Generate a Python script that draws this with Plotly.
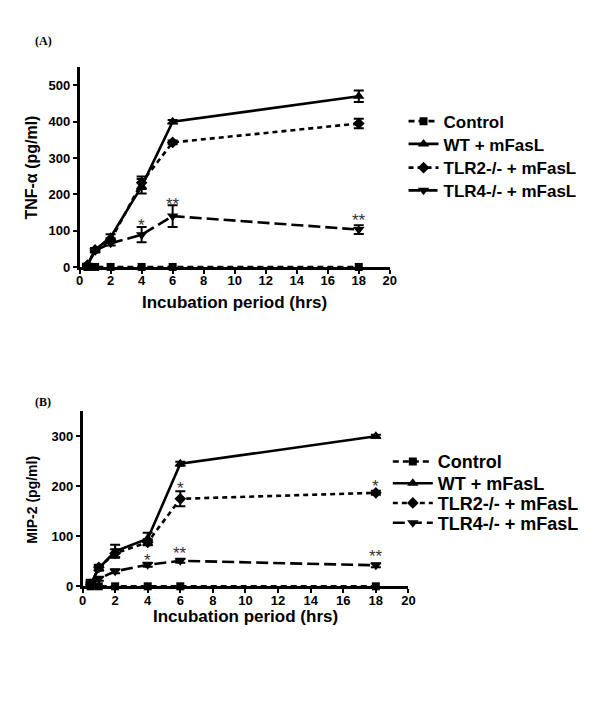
import plotly.graph_objects as go

W, H = 600, 709

times = [0.5, 1, 2, 4, 6, 18]
series_names = ["Control", "WT + mFasL", "TLR2-/- + mFasL", "TLR4-/- + mFasL"]

# Panel A: TNF-alpha (pg/ml)
control_a = [0, 0, 0, 0, 0, 0]
wt_a = [5, 47, 82, 222, 400, 470]
wt_a_err = [3, 5, 8, 20, 5, 16]
tlr2_a = [5, 47, 73, 232, 343, 395]
tlr2_a_err = [3, 5, 6, 17, 5, 13]
tlr4_a = [5, 45, 65, 89, 140, 103]
tlr4_a_err = [3, 5, 6, 21, 30, 12]

# Panel B: MIP-2 (pg/ml)
control_b = [0, 0, 0, 0, 0, 0]
wt_b = [5, 36, 70, 95, 245, 300]
wt_b_err = [8, 5, 13, 12, 4, 3]
tlr2_b = [4, 38, 66, 88, 175, 187]
tlr2_b_err = [6, 5, 8, 6, 15, 4]
tlr4_b = [3, 15, 30, 43, 51, 42]
tlr4_b_err = [5, 4, 4, 4, 4, 4]

# significance marks: (x, y, text)
stars_a = [(4, 114, "*"), (6, 172, "**"), (18, 128, "**")]
stars_b = [(6, 195, "*"), (18, 199, "*"), (4, 52, "*"), (6, 66, "**"), (18, 60, "**")]

x_ticks = list(range(0, 21, 2))

styles = [
    dict(symbol="square", dash="6px,4px", size=8),
    dict(symbol="triangle-up", dash="solid", size=10),
    dict(symbol="diamond", dash="5px,4px", size=9),
    dict(symbol="triangle-down", dash="12px,5px", size=10),
]

fig = go.Figure()

def add_panel(vals, errs, xa, ya, legends):
    for name, v, e, st, lg in zip(series_names, vals, errs, styles, legends):
        err = dict(type="data", array=e, visible=True, color="black",
                   thickness=2, width=5) if e is not None else dict(visible=False)
        fig.add_trace(go.Scatter(
            x=times, y=v, name=name, mode="lines+markers",
            xaxis=xa, yaxis=ya, legend=lg, cliponaxis=False, showlegend=True,
            line=dict(color="black", width=2.6, dash=st["dash"]),
            marker=dict(symbol=st["symbol"], size=st["size"], color="black"),
            error_y=err,
        ))

legends_a = ["legend", "legend2", "legend3", "legend4"]
legends_b = ["legend5", "legend6", "legend7", "legend8"]

add_panel([control_a, wt_a, tlr2_a, tlr4_a],
          [None, wt_a_err, tlr2_a_err, tlr4_a_err], "x", "y", legends_a)
add_panel([control_b, wt_b, tlr2_b, tlr4_b],
          [None, wt_b_err, tlr2_b_err, tlr4_b_err], "x2", "y2", legends_b)

def px_x(p):
    return p / W

def px_y(p):
    return (H - p) / H

tickfont = dict(family="Liberation Sans, Arial", size=13, color="black", weight="bold")
axis_common = dict(showline=True, linecolor="black", linewidth=2.6, ticks="outside",
                   ticklen=4, tickwidth=2.2, tickcolor="black", showgrid=False,
                   zeroline=False, tickfont=tickfont)

fig.update_layout(
    width=W, height=H, margin=dict(l=0, r=0, t=0, b=0),
    paper_bgcolor="white", plot_bgcolor="white", showlegend=True,
    xaxis=dict(domain=[px_x(77), px_x(393)], range=[0, 20], tickvals=x_ticks,
               anchor="y", ticklabelstandoff=-4, **axis_common),
    yaxis=dict(domain=[px_y(270), px_y(68)], range=[0, 550], dtick=100,
               anchor="x", **axis_common),
    xaxis2=dict(domain=[px_x(80), px_x(412)], range=[0, 20], tickvals=x_ticks,
                anchor="y2", ticklabelstandoff=-4, **axis_common),
    yaxis2=dict(domain=[px_y(593), px_y(416)], range=[0, 350], dtick=100,
                anchor="x2", **axis_common),
)

# one legend box per entry so rows sit where the reference has them
rows_a = [123, 146, 170, 193]
rows_b = [467, 489, 509, 529]
leg_layout = {}
for lg, ry in zip(legends_a, rows_a):
    leg_layout[lg] = dict(x=px_x(407), y=px_y(ry), xanchor="left", yanchor="middle",
                          font=dict(family="Liberation Sans, Arial", size=17,
                                    color="black", weight="bold"),
                          bgcolor="rgba(0,0,0,0)", itemwidth=30, visible=True)
for lg, ry in zip(legends_b, rows_b):
    leg_layout[lg] = dict(x=px_x(391), y=px_y(ry), xanchor="left", yanchor="middle",
                          font=dict(family="Liberation Sans, Arial", size=18,
                                    color="black", weight="bold"),
                          bgcolor="rgba(0,0,0,0)", itemwidth=40, visible=True)
fig.update_layout(**leg_layout)

ann = []

def paper_text(text, x, y, size, angle=0, family=None, weight="bold"):
    f = dict(size=size, color="black", weight=weight,
             family=family or "Liberation Sans, Arial")
    ann.append(dict(text=text, x=px_x(x), y=px_y(y), xref="paper", yref="paper",
                    xanchor="center", yanchor="middle", showarrow=False,
                    textangle=angle, font=f))

paper_text("Incubation period (hrs)", 235, 306, 17)
paper_text("Incubation period (hrs)", 246, 624, 17)
paper_text("TNF-α (pg/ml)", 28, 169, 16, angle=-90)
paper_text("MIP-2 (pg/ml)", 29, 505, 14, angle=-90)
paper_text("(A)", 40, 41, 12, family="Liberation Serif, Times New Roman")
paper_text("(B)", 40, 407, 12, family="Liberation Serif, Times New Roman")

star_font = dict(family="Liberation Sans, Arial", size=17, color="#333333")
for (sx, sy, t) in stars_a:
    ann.append(dict(text=t, x=sx, y=sy, xref="x", yref="y", showarrow=False,
                    xanchor="center", yanchor="middle", font=star_font))
for (sx, sy, t) in stars_b:
    ann.append(dict(text=t, x=sx, y=sy, xref="x2", yref="y2", showarrow=False,
                    xanchor="center", yanchor="middle", font=star_font))
fig.update_layout(annotations=ann)

fig.write_html("out.html", config={"displayModeBar": False},
               post_script="document.body.style.margin='0';document.body.style.overflow='hidden';")
